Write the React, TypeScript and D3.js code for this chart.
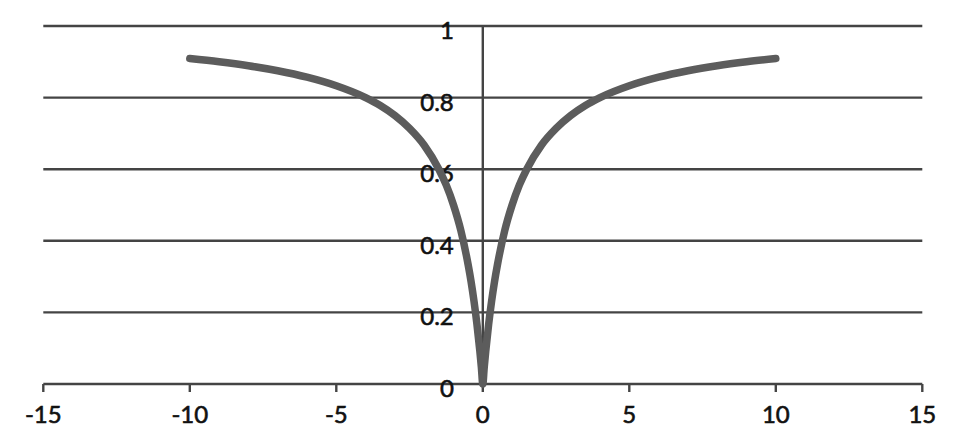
import { useEffect, useRef } from 'react';
import * as d3 from 'd3';

// values (right half, mirrored for the left)
const xRight = [0, 0.05, 0.1, 0.2, 0.3, 0.4, 0.5, 0.75, 1, 1.25, 1.5, 2, 2.5, 3, 3.5, 4, 5, 6, 7, 8, 9, 10];
const yRight = [0, 0.048, 0.091, 0.167, 0.231, 0.286, 0.333, 0.429, 0.5, 0.556, 0.6, 0.667, 0.714, 0.75, 0.778, 0.8, 0.833, 0.857, 0.875, 0.889, 0.9, 0.909];
const xTicks = [-15, -10, -5, 0, 5, 10, 15];
const yTicks = [0, 0.2, 0.4, 0.6, 0.8, 1];

const W = 956;
const H = 445;

export default function App() {
    const ref = useRef<SVGSVGElement | null>(null);

    useEffect(() => {
        document.body.style.margin = '0';
        if (!ref.current) return;

        const x = d3.scaleLinear().domain([-15, 15]).range([43.3, 922.3]);
        const y = d3.scaleLinear().domain([0, 1]).range([384, 26]);

        const pts: [number, number][] = [];
        for (let i = xRight.length - 1; i > 0; i--) pts.push([-xRight[i], yRight[i]]);
        for (let i = 0; i < xRight.length; i++) pts.push([xRight[i], yRight[i]]);

        const svg = d3.select(ref.current);
        svg.selectAll('*').remove();
        svg.attr('viewBox', `0 0 ${W} ${H}`);

        const grid = '#444';
        const font = 'Lato, "Open Sans", sans-serif';

        // gridlines
        svg.append('g')
            .selectAll('line')
            .data(yTicks.filter(d => d > 0))
            .join('line')
            .attr('x1', x(-15))
            .attr('x2', x(15))
            .attr('y1', d => y(d))
            .attr('y2', d => y(d))
            .attr('stroke', grid)
            .attr('stroke-width', 2.4);

        // x axis
        const xa = svg.append('g').attr('transform', `translate(0,${y(0)})`);
        xa.append('line').attr('x1', x(-15)).attr('x2', x(15)).attr('stroke', grid).attr('stroke-width', 2.4);
        xa.selectAll('line.tick')
            .data(xTicks)
            .join('line')
            .attr('class', 'tick')
            .attr('x1', d => x(d))
            .attr('x2', d => x(d))
            .attr('y1', 0)
            .attr('y2', 8)
            .attr('stroke', grid)
            .attr('stroke-width', 2.4);
        xa.selectAll('text')
            .data(xTicks)
            .join('text')
            .attr('x', d => x(d))
            .attr('y', 39)
            .attr('text-anchor', 'middle')
            .attr('font-family', font)
            .attr('font-size', 24)
            .attr('fill', '#111')
            .attr('stroke', '#111')
            .attr('stroke-width', 0.6)
            .text(d => String(d));

        // y axis at x=0
        svg.append('line')
            .attr('x1', x(0))
            .attr('x2', x(0))
            .attr('y1', y(1))
            .attr('y2', y(0))
            .attr('stroke', grid)
            .attr('stroke-width', 2.4);
        svg.append('g')
            .selectAll('text')
            .data(yTicks)
            .join('text')
            .attr('x', x(0) - 29)
            .attr('y', d => y(d) + 13)
            .attr('text-anchor', 'end')
            .attr('font-family', font)
            .attr('font-size', 24)
            .attr('fill', '#111')
            .attr('stroke', '#111')
            .attr('stroke-width', 0.6)
            .text(d => String(d));

        // curve
        const line = d3
            .line<[number, number]>()
            .x(d => x(d[0]))
            .y(d => y(d[1]))
            .curve(d3.curveMonotoneX);
        svg.append('path')
            .attr('d', line(pts))
            .attr('fill', 'none')
            .attr('stroke', '#5c5c5c')
            .attr('stroke-width', 7.5)
            .attr('stroke-linecap', 'round')
            .attr('stroke-linejoin', 'round');
    }, []);

    return <svg ref={ref} width={W} height={H} style={{ display: 'block', background: '#fff' }} />;
}
